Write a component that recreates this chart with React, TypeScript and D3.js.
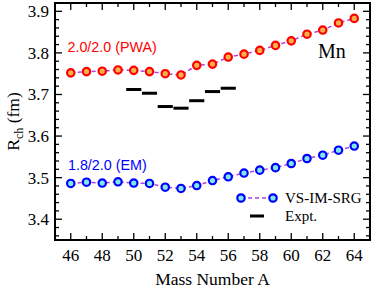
import React from "react";
import { scaleLinear, line, range } from "d3";

const width = 374;
const height = 288;
const margin = { left: 55, right: 4, top: 3, bottom: 48 };
const plotW = width - margin.left - margin.right;
const plotH = height - margin.top - margin.bottom;

const massNumbers = range(46, 65);
const pwa = [
  3.752, 3.755, 3.756, 3.759, 3.758, 3.755, 3.75, 3.747, 3.77, 3.773, 3.79,
  3.797, 3.806, 3.818, 3.829, 3.845, 3.855, 3.872, 3.883,
];
const em = [
  3.486, 3.489, 3.487, 3.49, 3.487, 3.486, 3.477, 3.474, 3.481, 3.493, 3.502,
  3.511, 3.518, 3.524, 3.534, 3.546, 3.554, 3.566, 3.576,
];
const exptA = [50, 51, 52, 53, 54, 55, 56];
const exptR = [3.712, 3.703, 3.671, 3.667, 3.685, 3.707, 3.715];

const xTicks = range(46, 65, 2);
const xMinor = range(45, 66, 1);
const yTicks = [3.4, 3.5, 3.6, 3.7, 3.8, 3.9];
const yMinor = range(3.36, 3.921, 0.02);

const x = scaleLinear().domain([45, 65]).range([0, plotW]);
const y = scaleLinear().domain([3.35, 3.92]).range([plotH, 0]);

const lineColor = "#b040e0";
const serif = { fontFamily: "Liberation Serif, DejaVu Serif, serif" };
const sans = { fontFamily: "Liberation Sans, Arial, sans-serif" };

const seriesLine = line<number>()
  .x((_, i) => x(massNumbers[i]))
  .y((d) => y(d));

const Marker = ({ cx, cy, stroke, fill }) => (
  <circle cx={cx} cy={cy} r={3.7} fill={fill} stroke={stroke} strokeWidth={2.2} />
);

const App = () => (
  <div style={{ position: "absolute", left: 0, top: 0 }}>
    <svg width={width} height={height} style={{ display: "block", background: "#fff" }}>
      <g transform={`translate(${margin.left}, ${margin.top})`}>
        {/* ticks, inside on all four sides */}
        {xMinor.map((d) => {
          const len = d % 2 === 0 ? 7 : 4;
          return (
            <g key={`x${d}`} stroke="#000" strokeWidth={1.3}>
              <line x1={x(d)} x2={x(d)} y1={plotH} y2={plotH - len} />
              <line x1={x(d)} x2={x(d)} y1={0} y2={len} />
            </g>
          );
        })}
        {yMinor.map((d, i) => {
          const major = yTicks.some((t) => Math.abs(t - d) < 1e-6);
          const len = major ? 7 : 4;
          return (
            <g key={`y${i}`} stroke="#000" strokeWidth={1.3}>
              <line x1={0} x2={len} y1={y(d)} y2={y(d)} />
              <line x1={plotW} x2={plotW - len} y1={y(d)} y2={y(d)} />
            </g>
          );
        })}
        <rect x={0} y={0} width={plotW} height={plotH} fill="none" stroke="#000" strokeWidth={2} />

        {xTicks.map((d) => (
          <text key={d} x={x(d)} y={plotH + 21} textAnchor="middle" style={serif} fontSize={17}>
            {d}
          </text>
        ))}
        {yTicks.map((d) => (
          <text key={d} x={-6} y={y(d)} dy="0.35em" textAnchor="end" style={serif} fontSize={17}>
            {d.toFixed(1)}
          </text>
        ))}

        {/* experiment */}
        {exptA.map((a, i) => (
          <line
            key={a}
            x1={x(a - 0.48)}
            x2={x(a + 0.48)}
            y1={y(exptR[i])}
            y2={y(exptR[i])}
            stroke="#000"
            strokeWidth={3}
          />
        ))}

        {/* theory */}
        <path d={seriesLine(pwa)} fill="none" stroke={lineColor} strokeWidth={1.5} strokeDasharray="4,3" />
        <path d={seriesLine(em)} fill="none" stroke={lineColor} strokeWidth={1.5} strokeDasharray="4,3" />
        {pwa.map((d, i) => (
          <Marker key={`p${i}`} cx={x(massNumbers[i])} cy={y(d)} stroke="#ff0000" fill="#f7b04a" />
        ))}
        {em.map((d, i) => (
          <Marker key={`e${i}`} cx={x(massNumbers[i])} cy={y(d)} stroke="#0000ff" fill="#80e8e8" />
        ))}

        <text x={12.5} y={49} fill="#ff0000" style={sans} fontSize={14.3}>
          2.0/2.0 (PWA)
        </text>
        <text x={13} y={167} fill="#0000ff" style={sans} fontSize={14.3}>
          1.8/2.0 (EM)
        </text>
        <text x={263} y={55} style={serif} fontSize={20}>
          Mn
        </text>

        {/* legend */}
        <line x1={186} x2={218} y1={195} y2={195} stroke={lineColor} strokeWidth={1.5} strokeDasharray="4,3" />
        <Marker cx={186} cy={195} stroke="#0000ff" fill="#80e8e8" />
        <Marker cx={218} cy={195} stroke="#0000ff" fill="#80e8e8" />
        <text x={230} y={200} style={serif} fontSize={15}>
          VS-IM-SRG
        </text>
        <line x1={195} x2={209} y1={213} y2={213} stroke="#000" strokeWidth={3} />
        <text x={230} y={218} style={serif} fontSize={15}>
          Expt.
        </text>

        <text x={plotW / 2} y={plotH + 45} textAnchor="middle" style={serif} fontSize={17.5}>
          Mass Number A
        </text>
        <text
          transform={`translate(${19 - margin.left}, ${plotH / 2}) rotate(-90)`}
          textAnchor="middle"
          style={serif}
          fontSize={17.5}
        >
          R<tspan fontSize={12} dy={4}>ch</tspan>
          <tspan dy={-4}> (fm)</tspan>
        </text>
      </g>
    </svg>
  </div>
);

export default App;
